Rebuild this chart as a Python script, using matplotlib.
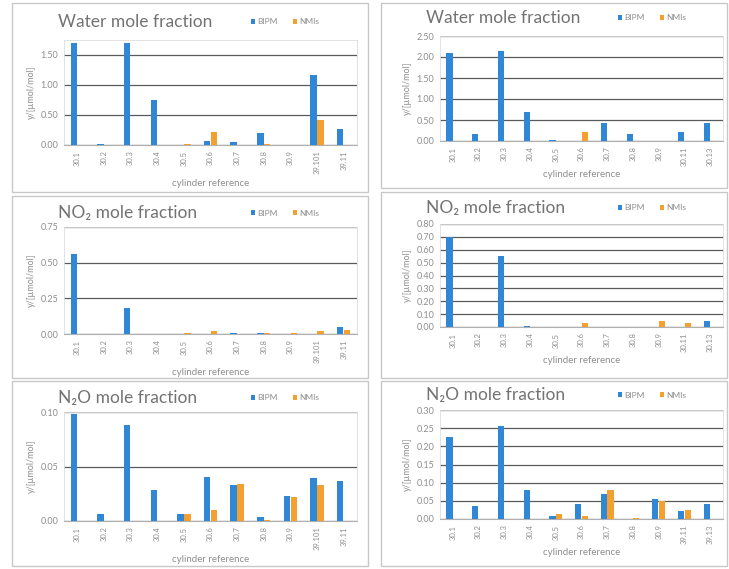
import matplotlib
matplotlib.use("Agg")
import matplotlib.pyplot as plt
from matplotlib.patches import Rectangle
import numpy as np

W, H = 729, 569
plt.rcParams['font.family'] = ['Lato', 'DejaVu Sans']

cyl_left = ["30.1", "30.2", "30.3", "30.4", "30.5", "30.6", "30.7", "30.8", "30.9", "39.101", "39.11"]
cyl_right = ["30.1", "30.2", "30.3", "30.4", "30.5", "30.6", "30.7", "30.8", "30.9", "30.11", "30.13"]
cyl_right_n2o = ["30.1", "30.2", "30.3", "30.4", "30.5", "30.6", "30.7", "30.8", "30.9", "39.11", "39.13"]

# water, left
water_l_bipm = [1.70, 0.01, 1.70, 0.75, 0.0, 0.07, 0.05, 0.20, 0.0, 1.17, 0.26]
water_l_nmis = [0.0, 0.0, 0.0, 0.0, 0.01, 0.22, 0.0, 0.02, 0.0, 0.42, 0.0]
# water, right
water_r_bipm = [2.10, 0.17, 2.15, 0.70, 0.03, 0.0, 0.43, 0.17, 0.0, 0.22, 0.42]
water_r_nmis = [0.0, 0.0, 0.0, 0.0, 0.0, 0.22, 0.0, 0.0, 0.0, 0.0, 0.0]
# NO2, left
no2_l_bipm = [0.56, 0.0, 0.18, 0.0, 0.0, 0.0, 0.005, 0.01, 0.0, 0.0, 0.05]
no2_l_nmis = [0.0, 0.0, 0.0, 0.0, 0.005, 0.02, 0.0, 0.005, 0.01, 0.02, 0.03]
# NO2, right
no2_r_bipm = [0.70, 0.0, 0.55, 0.005, 0.002, 0.0, 0.0, 0.0, 0.0, 0.0, 0.05]
no2_r_nmis = [0.0, 0.0, 0.0, 0.0, 0.0, 0.03, 0.0, 0.0, 0.05, 0.03, 0.0]
# N2O, left
n2o_l_bipm = [0.098, 0.006, 0.088, 0.028, 0.006, 0.040, 0.033, 0.004, 0.023, 0.039, 0.037]
n2o_l_nmis = [0.0, 0.0, 0.0, 0.0, 0.006, 0.010, 0.034, 0.001, 0.022, 0.033, 0.0]
# N2O, right
n2o_r_bipm = [0.225, 0.035, 0.255, 0.080, 0.008, 0.042, 0.070, 0.0, 0.055, 0.022, 0.042]
n2o_r_nmis = [0.0, 0.0, 0.0, 0.0, 0.015, 0.008, 0.080, 0.003, 0.050, 0.025, 0.0]

BLUE = "#2f87d6"
ORANGE = "#f4a030"
GREY = "#8e8e8e"

fig = plt.figure(figsize=(W / 100, H / 100), dpi=100)


def px(x0, y0, x1, y1):
    return [x0 / W, 1 - y1 / H, (x1 - x0) / W, (y1 - y0) / H]


def panel(box, area, title, title_xy, leg_x, cats, bipm, nmis, ymax, step):
    fig.patches.append(Rectangle((box[0] / W, 1 - box[3] / H), (box[2] - box[0]) / W,
                                 (box[3] - box[1]) / H, transform=fig.transFigure,
                                 fill=False, edgecolor="#c8c8c8", lw=1.0))
    ax = fig.add_axes(px(*area))
    x = np.arange(len(cats))
    w = 0.24
    ax.bar(x - 0.13, bipm, w, color=BLUE, label="BIPM", zorder=3)
    ax.bar(x + 0.13, nmis, w, color=ORANGE, label="NMIs", zorder=3)
    ax.set_xlim(-0.5, len(cats) - 0.5)
    ax.set_ylim(0, ymax)
    ticks = np.arange(0, ymax + 1e-9, step)
    ax.set_yticks(ticks)
    ax.set_yticklabels([f"{t:.2f}" for t in ticks], fontsize=6.5, color=GREY)
    ax.set_xticks(x)
    ax.set_xticklabels(cats, rotation=90, fontsize=5.5, color=GREY)
    ax.tick_params(length=0, pad=4)
    ax.grid(axis="y", color="#5a5a5a", lw=0.9, zorder=0)
    for s in ["left", "right", "top"]:
        ax.spines[s].set_color("#dddddd")
        ax.spines[s].set_linewidth(0.6)
    ax.spines["bottom"].set_color("#b0b0b0")
    ax.set_xlabel("cylinder reference", fontsize=7, color=GREY, labelpad=3)
    ax.set_ylabel("y/[µmol/mol]", fontsize=6.5, color=GREY, labelpad=3)
    fig.text(title_xy[0] / W, 1 - title_xy[1] / H, title, fontsize=12.5,
             color="#737373", va="center", ha="left")
    ax.legend(loc="center left", bbox_to_anchor=(leg_x / W, 1 - title_xy[1] / H),
              bbox_transform=fig.transFigure, ncol=2, frameon=False, fontsize=6,
              handlelength=0.5, handleheight=0.5, columnspacing=1.8, handletextpad=0.3,
              labelcolor=GREY)
    return ax


panel((12, 3, 368, 192), (64, 40, 357, 145), "Water mole fraction", (58, 22), 243,
      cyl_left, water_l_bipm, water_l_nmis, 1.75, 0.5)
panel((381, 3, 727, 188), (440, 36, 723, 141), "Water mole fraction", (426, 18), 610,
      cyl_right, water_r_bipm, water_r_nmis, 2.5, 0.5)
panel((12, 196, 368, 378), (64, 227, 357, 334), "NO₂ mole fraction", (58, 213), 243,
      cyl_left, no2_l_bipm, no2_l_nmis, 0.75, 0.25)
panel((381, 192, 727, 378), (440, 224, 723, 327), "NO₂ mole fraction", (426, 208), 610,
      cyl_right, no2_r_bipm, no2_r_nmis, 0.8, 0.1)
panel((12, 381, 368, 566), (64, 412, 357, 521), "N₂O mole fraction", (58, 398), 243,
      cyl_left, n2o_l_bipm, n2o_l_nmis, 0.10, 0.05)
panel((381, 381, 727, 566), (440, 410, 723, 519), "N₂O mole fraction", (426, 395), 610,
      cyl_right_n2o, n2o_r_bipm, n2o_r_nmis, 0.30, 0.05)

fig.savefig("out.png", dpi=100)
